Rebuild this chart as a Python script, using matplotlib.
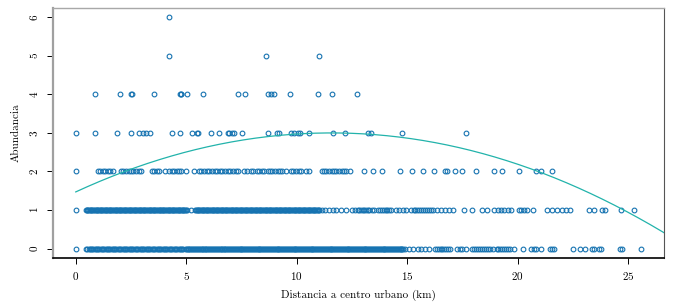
import matplotlib
matplotlib.use("Agg")
import matplotlib.pyplot as plt
import numpy as np

plt.rcParams['font.family'] = ['cmr10', 'DejaVu Serif']
plt.rcParams['mathtext.fontset'] = 'cm'
plt.rcParams['axes.formatter.use_mathtext'] = True
plt.rcParams['axes.unicode_minus'] = False

# ---- data: distance (km) of each site, grouped by abundance ----
x_abund0 = [0.0,
    0.47, 0.52, 0.58, 0.63, 0.69, 0.74, 0.80, 0.85, 0.91, 0.96, 1.02, 1.07, 1.13, 1.18, 1.24,
    1.29, 1.35, 1.40, 1.46, 1.51, 1.57, 1.62, 1.68, 1.73, 1.79, 1.84, 1.90, 1.95, 2.01, 2.06,
    2.12, 2.17, 2.23, 2.28, 2.34, 2.39, 2.45, 2.50, 2.56, 2.61, 2.67, 2.72, 2.78, 2.83, 2.89,
    2.94, 3.00, 3.05, 3.11, 3.16, 3.22, 3.27, 3.33, 3.38, 3.44, 3.49, 3.55, 3.60, 3.66, 3.71,
    3.77, 3.82, 3.88, 3.93, 3.99, 4.04, 4.10, 4.15, 4.21, 4.26, 4.32, 4.37, 4.43, 4.48, 4.54,
    4.59, 4.65, 4.70, 4.76, 4.81, 4.87, 4.97, 5.06, 5.14, 5.23, 5.31, 5.40, 5.49, 5.57, 5.66,
    5.74, 5.83, 5.91, 6.00, 6.09, 6.17, 6.26, 6.34, 6.43, 6.51, 6.60, 6.69, 6.77, 6.86, 6.94,
    7.03, 7.11, 7.20, 7.29, 7.37, 7.46, 7.54, 7.63, 7.71, 7.80, 7.89, 7.97, 8.06, 8.14, 8.23,
    8.31, 8.40, 8.49, 8.57, 8.66, 8.74, 8.83, 8.91, 9.00, 9.09, 9.17, 9.26, 9.34, 9.43, 9.51,
    9.60, 9.69, 9.77, 9.86, 9.94, 10.03, 10.11, 10.20, 10.29, 10.37, 10.46, 10.54, 10.63,
    10.71, 10.80, 10.89, 10.97, 11.06, 11.14, 11.23, 11.31, 11.40, 11.49, 11.57, 11.66, 11.74,
    11.83, 11.91, 12.00, 12.09, 12.17, 12.26, 12.34, 12.43, 12.51, 12.60, 12.69, 12.77, 12.86,
    12.94, 13.03, 13.11, 13.20, 13.29, 13.37, 13.46, 13.54, 13.63, 13.71, 13.80, 13.89, 13.97,
    14.06, 14.14, 14.23, 14.31, 14.40, 14.49, 14.57, 14.66, 14.74, 14.83, 14.91,
    5.01, 5.10, 5.18, 5.27, 5.35, 5.44, 5.53, 5.61, 5.70, 5.78, 5.87, 5.95, 6.04, 6.13, 6.21,
    6.30, 6.38, 6.47, 6.55, 6.64, 6.73, 6.81, 6.90, 6.98, 7.07, 7.15, 7.24, 7.33, 7.41, 7.50,
    7.58, 7.67, 7.75, 7.84, 7.93, 8.01, 8.10, 8.18, 8.27, 8.35, 8.44, 8.53, 8.61, 8.70, 8.78,
    8.87, 8.95, 9.04, 9.13, 9.21, 9.30, 9.38, 9.47, 9.55, 9.64, 9.73, 9.81, 9.90, 9.98, 10.07,
    10.15, 10.24, 10.33, 10.41, 10.50, 10.58, 10.67, 10.75, 10.84, 10.93, 11.01, 11.10, 11.18,
    11.27, 11.35, 11.44, 11.53, 11.61, 11.70, 11.78, 11.87, 11.95, 12.04, 12.13, 12.21, 12.30,
    12.38, 12.47, 12.55, 12.64, 12.73, 12.81, 12.90, 12.98, 13.07, 13.15, 13.24, 13.33, 13.41,
    13.50, 13.58, 13.67, 13.75, 13.84, 13.93, 14.01, 14.10, 14.18, 14.27, 14.35, 14.44, 14.53,
    14.61, 14.70, 14.78,
    15.09, 15.27, 15.47, 15.62, 15.82, 15.97, 16.27, 16.35, 16.43, 16.51, 16.59, 16.67, 16.75,
    16.83, 16.92, 17.24, 17.38, 17.50, 17.66, 17.93, 18.02, 18.10, 18.20, 18.30, 18.38, 18.47,
    18.55, 18.65, 18.75, 18.88, 19.06, 19.13, 19.20, 19.28, 19.36, 19.45, 19.55, 19.65, 19.85,
    20.25, 20.62, 20.75, 20.82, 21.05, 21.45, 21.55, 21.62, 22.50, 22.80, 23.05, 23.38, 23.47,
    23.68, 23.75, 24.65, 24.70, 25.60]

x_abund1 = [0.0,
    0.45, 0.52, 0.60, 0.67, 0.75, 0.82, 0.90, 0.97, 1.05, 1.12, 1.20, 1.27, 1.35, 1.42, 1.50,
    1.57, 1.65, 1.72, 1.80, 1.87, 1.95, 2.02, 2.10, 2.17, 2.25, 2.32, 2.40, 2.47, 2.55, 2.62,
    2.70, 2.77, 2.85, 2.92, 3.00, 3.07, 3.15, 3.22, 3.30, 3.37, 3.45, 3.52, 3.60, 3.67, 3.75,
    3.82, 3.90, 3.97, 4.05, 4.12, 4.20, 4.27, 4.35, 4.42, 4.50, 4.57, 4.65, 4.72, 4.80, 4.87,
    4.95, 5.05, 5.22, 5.40, 5.47, 5.55, 5.62, 5.70, 5.77, 5.85, 5.92, 6.00, 6.07, 6.15, 6.22,
    6.30, 6.37, 6.45, 6.52, 6.60, 6.67, 6.75, 6.82, 6.90, 6.97, 7.05, 7.12, 7.20, 7.27, 7.35,
    7.42, 7.50, 7.57, 7.65, 7.72, 7.80, 7.87, 7.95, 8.02, 8.10, 8.17, 8.25, 8.32, 8.40, 8.47,
    8.55, 8.62, 8.70, 8.77, 8.85, 8.92, 9.00, 9.07, 9.15, 9.22, 9.30, 9.37, 9.45, 9.52, 9.60,
    9.67, 9.75, 9.82, 9.90, 9.97, 10.05, 10.12, 10.20, 10.27, 10.35, 10.42, 10.50, 10.57,
    10.65, 10.72, 10.80, 10.87, 10.95, 11.02,
    0.49, 0.56, 0.64, 0.71, 0.79, 0.86, 0.94, 1.01, 1.09, 1.16, 1.24, 1.31, 1.39, 1.46, 1.54,
    1.61, 1.69, 1.76, 1.84, 1.91, 1.99, 2.06, 2.14, 2.21, 2.29, 2.36, 2.44, 2.51, 2.59, 2.66,
    2.74, 2.81, 2.89, 2.96, 3.04, 3.11, 3.19, 3.26, 3.34, 3.41, 3.49, 3.56, 3.64, 3.71, 3.79,
    3.86, 3.94, 4.01, 4.09, 4.16, 4.24, 4.31, 4.39, 4.46, 4.54, 4.61, 4.69, 4.76, 4.84, 4.91,
    5.00, 5.44, 5.51, 5.59, 5.66, 5.74, 5.81, 5.89, 5.96, 6.04, 6.11, 6.19, 6.26, 6.34, 6.41,
    6.49, 6.56, 6.64, 6.71, 6.79, 6.86, 6.94, 7.01, 7.09, 7.16, 7.24, 7.31, 7.39, 7.46, 7.54,
    7.61, 7.69, 7.76, 7.84, 7.91, 7.99, 8.06, 8.14, 8.21, 8.29, 8.36, 8.44, 8.51, 8.59, 8.66,
    8.74, 8.81, 8.89, 8.96, 9.04, 9.11, 9.19, 9.26, 9.34, 9.41, 9.49, 9.56, 9.64, 9.71, 9.79,
    9.86, 9.94, 10.01, 10.09, 10.16, 10.24, 10.31, 10.39, 10.46, 10.54, 10.61, 10.69, 10.76,
    10.84, 10.91, 10.99,
    11.16, 11.30, 11.46, 11.62, 11.76, 11.99, 12.22,
    12.52, 12.62, 12.75, 12.83, 12.90, 12.98, 13.06, 13.14, 13.21, 13.28, 13.41, 13.51,
    13.66, 13.75, 13.84, 13.93, 14.02, 14.10, 14.19, 14.27, 14.49, 14.64, 14.79, 14.94,
    15.17, 15.32, 15.36, 15.45, 15.53, 15.62, 15.70, 15.79, 15.88, 15.97, 16.06, 16.15,
    16.33, 16.53, 16.73, 16.90, 17.05, 17.58, 17.95, 18.40, 18.63, 18.93, 19.10, 19.25,
    19.36, 19.54, 19.69, 20.06, 20.17, 20.29, 20.44, 20.67, 21.34, 21.57, 21.80, 21.99,
    22.20, 22.35, 23.23, 23.45, 23.80, 23.95, 24.66, 25.26]

x_abund2 = [0.0, 0.99, 1.10, 1.22, 1.34, 1.46, 1.55, 1.67, 2.05, 2.15, 2.27, 2.39, 2.50,
    2.61, 2.73, 2.85, 2.95, 3.45, 3.55, 3.66, 3.75, 4.02, 4.23, 4.35, 4.46, 4.56, 4.68,
    4.76, 4.99, 5.36, 5.59, 5.69, 5.82, 5.92, 6.04, 6.16, 6.28, 6.40, 6.52, 6.64, 6.76,
    6.88, 7.00, 7.13, 7.24, 7.32, 7.62, 7.73, 7.92, 8.04, 8.18, 8.30, 8.42, 8.54, 8.68,
    8.78, 8.90, 9.02, 9.13, 9.23, 9.35, 9.51, 9.73, 9.84, 9.96, 10.08, 10.18, 10.44, 10.56,
    11.13, 11.25, 11.34, 11.46, 11.58, 11.69, 11.79, 11.92, 12.03, 12.14, 12.25, 12.41,
    13.06, 13.47, 13.86, 14.67, 15.21, 15.73, 16.22, 16.72, 16.82, 17.17, 17.47, 18.13,
    18.93, 19.28, 20.06, 20.85, 21.04, 21.54]

x_abund3 = [0.0, 0.88, 1.86, 2.51, 2.85, 3.03, 3.18, 3.36, 4.36, 4.72, 5.26, 5.48, 5.53,
    6.12, 6.47, 6.88, 6.95, 7.06, 7.18, 7.52, 8.69, 9.09, 9.18, 9.74, 9.89, 10.04, 10.14,
    10.54, 11.62, 12.20, 13.22, 13.37, 14.77, 17.67]

x_abund4 = [0.88, 1.98, 2.51, 2.56, 3.52, 4.70, 4.74, 4.78, 5.02, 5.78, 7.33, 7.66, 8.69,
    8.84, 8.99, 9.69, 10.95, 11.59, 12.71]

x_abund5 = [4.22, 8.62, 11.03]
x_abund6 = [4.22]

abund_levels = [0, 1, 2, 3, 4, 5, 6]
# quadratic model fitted: y = a + b*x + c*x^2
curve_coef = [1.470, 0.2645, -0.01143]

x_ticks = [0, 5, 10, 15, 20, 25]
y_ticks = [0, 1, 2, 3, 4, 5, 6]

# ---- figure ----
fig = plt.figure(figsize=(6.76, 3.08), dpi=100)
ax = fig.add_axes([53/676, 1 - 258/308, (664 - 53)/676, (258 - 7.5)/308])

groups = [x_abund0, x_abund1, x_abund2, x_abund3, x_abund4, x_abund5, x_abund6]
pt_color = '#1673b1'
for lvl, xs in zip(abund_levels, groups):
    ax.plot(xs, [lvl] * len(xs), linestyle='none', marker='o', markersize=3.4,
            markerfacecolor='none', markeredgecolor=pt_color, markeredgewidth=0.8)

xc = np.linspace(0, 27, 300)
a, b, c = curve_coef
ax.plot(xc, a + b * xc + c * xc ** 2, color='#22b3ab', linewidth=0.9)

ax.set_xlim(-1.03, 26.62)
ax.set_ylim(-0.245, 6.255)
ax.set_xticks(x_ticks)
ax.set_yticks(y_ticks)
ax.tick_params(axis='both', direction='out', length=4, width=0.7, labelsize=8, pad=5)
for lab in ax.get_yticklabels():
    lab.set_rotation(90)
    lab.set_va('center')
ax.set_xlabel('Distancia a centro urbano (km)', fontsize=8, labelpad=5)
ax.set_ylabel('Abundancia', fontsize=8, labelpad=6)

ax.spines['left'].set_color('#a0a0a0')
ax.spines['left'].set_linewidth(1.6)
ax.spines['bottom'].set_color('black')
ax.spines['bottom'].set_linewidth(1.2)
ax.spines['top'].set_color('#a8a8a8')
ax.spines['top'].set_linewidth(1.0)
ax.spines['right'].set_color('#555555')
ax.spines['right'].set_linewidth(0.8)

fig.savefig('out.png', dpi=100)
